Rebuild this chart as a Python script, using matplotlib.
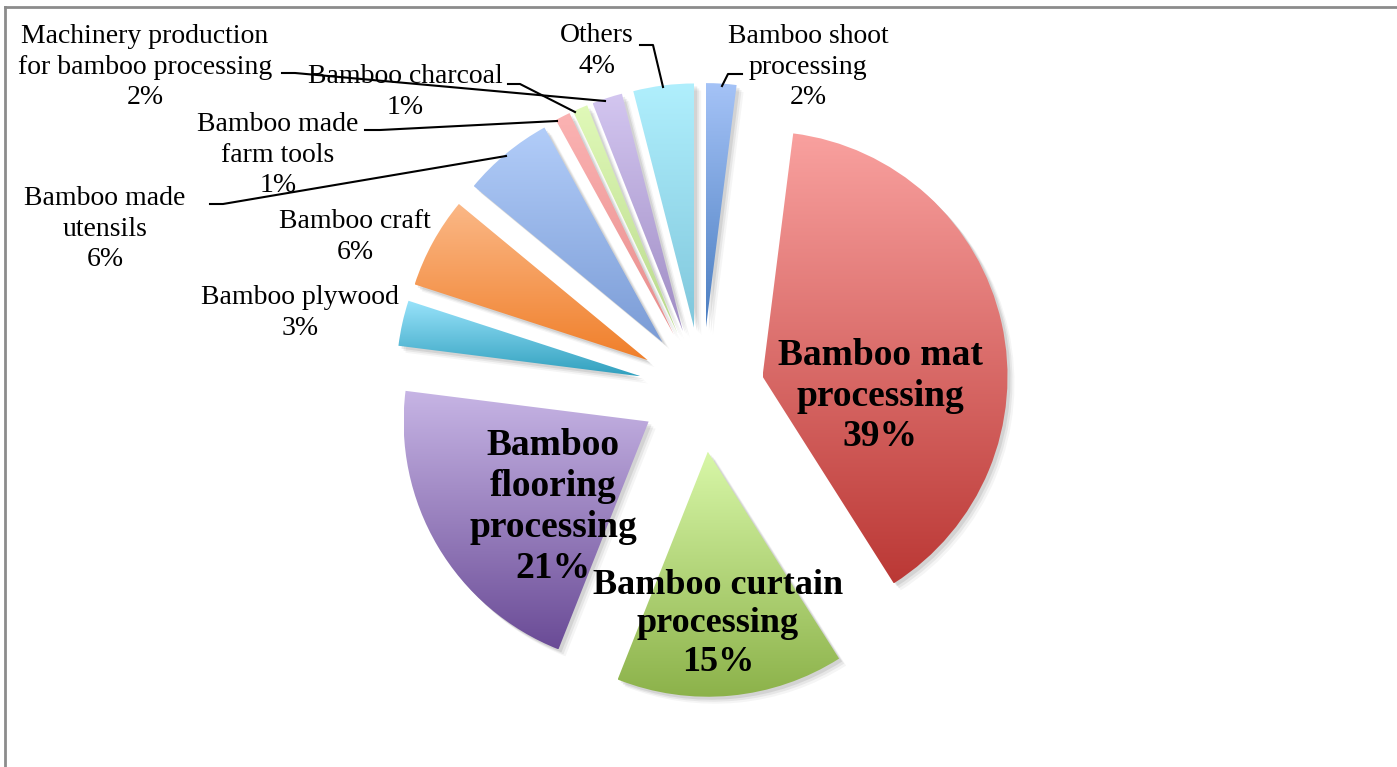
import numpy as np
import matplotlib.pyplot as plt
from matplotlib.colors import LinearSegmentedColormap
from matplotlib.lines import Line2D
from matplotlib.patches import Wedge

# Share of bamboo processing sectors (%), clockwise from 12 o'clock
categories = ['Bamboo shoot\nprocessing', 'Bamboo mat\nprocessing', 'Bamboo curtain\nprocessing',
              'Bamboo\nflooring\nprocessing', 'Bamboo plywood', 'Bamboo craft',
              'Bamboo made\nutensils', 'Bamboo made\nfarm tools', 'Bamboo charcoal',
              'Machinery production\nfor bamboo processing', 'Others']
shares = [2, 39, 15, 21, 3, 6, 6, 1, 1, 2, 4]

# gradient colours (top, bottom) per slice
top_colors = ['#a5c3f7', '#f9a19f', '#d8f7a8', '#c7b5e5', '#99e3fb', '#fbb887',
              '#b2cdf9', '#fbb3b3', '#e0f9b8', '#d3c6f0', '#b0effd']
bottom_colors = ['#4a7dc0', '#bb3835', '#8cb24a', '#6a4b96', '#31a0be', '#f07f2a',
                 '#7b9cd6', '#e88d8c', '#b9d98c', '#9f8cc4', '#80c7dc']

W, H = 1397, 767
fig = plt.figure(figsize=(W / 100, H / 100), dpi=100)
ax = fig.add_axes([0, 0, 1, 1])

center = (702, H - 390)
radius = 245
explode = [62] * len(shares)

wedges, _ = ax.pie(shares, explode=explode, radius=radius, center=center,
                   startangle=90, counterclock=False,
                   wedgeprops=dict(linewidth=0, facecolor='none'))

# soft shadows and gradient fills
for w, c1, c2 in zip(wedges, top_colors, bottom_colors):
    for k, a in [(7, 0.04), (5, 0.06), (3, 0.08)]:
        sh = Wedge((w.center[0] + k, w.center[1] - k), w.r, w.theta1, w.theta2,
                   facecolor='#000000', alpha=a, linewidth=0, zorder=1)
        ax.add_patch(sh)
    ext = w.get_path().get_extents()
    cmap = LinearSegmentedColormap.from_list('g', [c2, c1])
    grad = np.linspace(0, 1, 256).reshape(-1, 1)
    im = ax.imshow(grad, cmap=cmap, origin='lower', aspect='auto',
                   extent=(ext.x0, ext.x1, ext.y0, ext.y1), zorder=2)
    im.set_clip_path(w)

ax.set_xlim(0, W)
ax.set_ylim(0, H)
ax.set_aspect('equal')
ax.axis('off')

plt.rcParams['font.family'] = ['Liberation Serif', 'DejaVu Serif']

labels = [f'{c}\n{s}%' for c, s in zip(categories, shares)]
# label centres in pixel coordinates (x, y from top)
label_pos = [(808, 67), (880, 396), (718, 624), (553, 507), (300, 313), (355, 237),
             (105, 229), (278, 155), (405, 92), (145, 67), (597, 51)]
big = {1: 27, 2: 26, 3: 27}
for i, (txt, (px, py)) in enumerate(zip(labels, label_pos)):
    if i in big:
        ax.text(px, H - py, txt, ha='center', va='center', fontsize=big[i],
                fontweight='bold', linespacing=1.22, zorder=5)
    else:
        ax.text(px, H - py, txt, ha='center', va='center', fontsize=20,
                linespacing=1.28, zorder=5)

# leader lines (pixel coordinates)
leaders = [
    [(722, 86), (728, 74), (742, 74)],
    [(663, 87), (653, 45), (640, 45)],
    [(508, 84), (520, 84), (575, 112)],
    [(282, 73), (295, 73), (605, 101)],
    [(365, 130), (380, 130), (557, 121)],
    [(210, 204), (223, 204), (506, 156)],
]
for pts in leaders:
    xs = [p[0] for p in pts]
    ys = [H - p[1] for p in pts]
    ax.plot(xs, ys, color='black', linewidth=1.5, zorder=4)

# chart frame
fig.add_artist(Line2D([5 / W, 1], [1 - 7 / H, 1 - 7 / H], color='#8c8c8c', linewidth=2))
fig.add_artist(Line2D([5 / W, 5 / W], [0, 1 - 7 / H], color='#8c8c8c', linewidth=2))

fig.savefig('out.png', dpi=100)
